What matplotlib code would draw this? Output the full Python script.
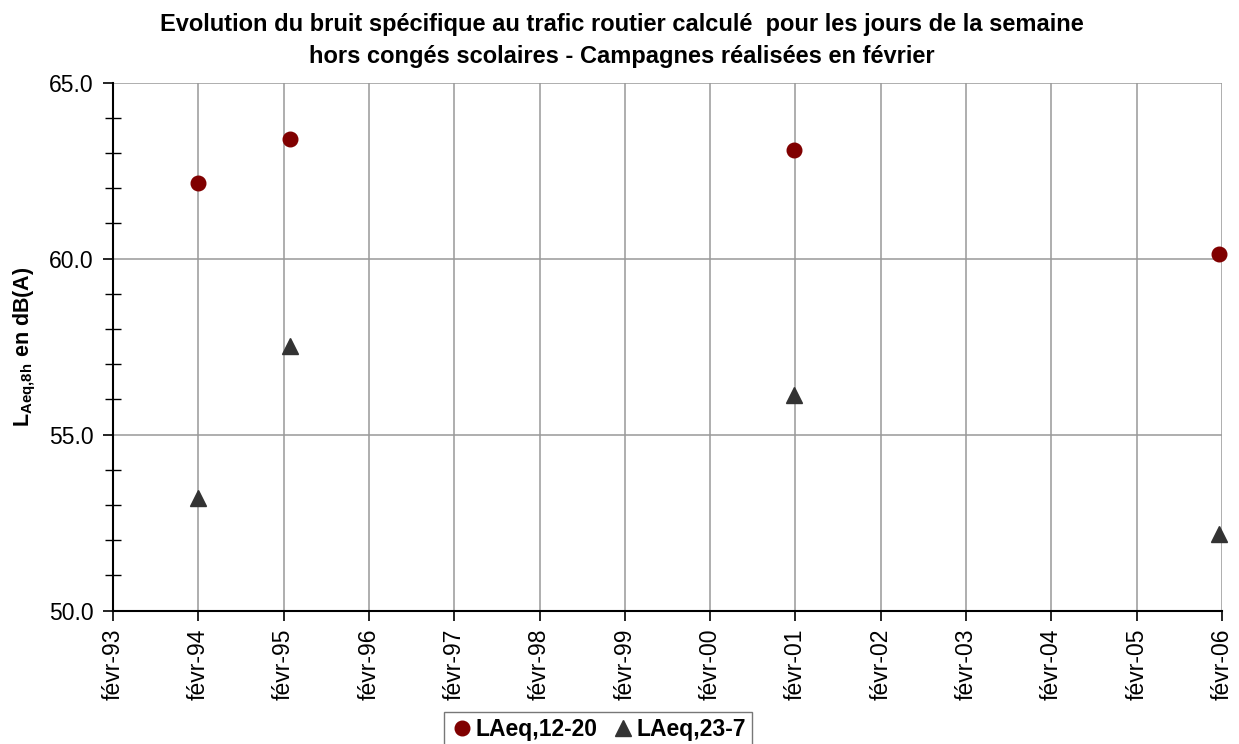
import matplotlib
matplotlib.use("Agg")
import matplotlib.pyplot as plt
from matplotlib.ticker import MultipleLocator
import datetime as dt

plt.rcParams['font.family'] = ['Liberation Sans', 'DejaVu Sans']
plt.rcParams['mathtext.fontset'] = 'custom'
plt.rcParams['mathtext.rm'] = 'Liberation Sans'
plt.rcParams['mathtext.bf'] = 'Liberation Sans:bold'
plt.rcParams['mathtext.it'] = 'Liberation Sans:italic'

# Data
dates = [dt.date(1994, 2, 1), dt.date(1995, 3, 1), dt.date(2001, 1, 25), dt.date(2006, 1, 20)]
laeq_12_20 = [62.14, 63.39, 63.08, 60.12]
laeq_23_7 = [53.2, 57.52, 56.13, 52.18]
tick_years = list(range(1993, 2007))
tick_labels = ["févr-%02d" % (y % 100) for y in tick_years]
y_ticks = [50.0, 55.0, 60.0, 65.0]
series_names = ["LAeq,12-20", "LAeq,23-7"]
title_lines = ["Evolution du bruit spécifique au trafic routier calculé  pour les jours de la semaine",
               "hors congés scolaires - Campagnes réalisées en février"]

fig = plt.figure(figsize=(12.39, 7.44), dpi=100)
ax = fig.add_axes([113/1239, 1 - 610.7/744, (1222 - 113)/1239, (610.7 - 82.7)/744])

ax.plot(dates, laeq_12_20, linestyle='none', marker='o', markersize=10.5,
        color='#800000', label=series_names[0], zorder=5, clip_on=False)
ax.plot(dates, laeq_23_7, linestyle='none', marker='^', markersize=11.5,
        color='#333333', label=series_names[1], zorder=5, clip_on=False)

ticks = [dt.date(y, 2, 1) for y in tick_years]
ax.set_xlim(ticks[0], ticks[-1])
ax.set_xticks(ticks)
ax.set_xticklabels(tick_labels, rotation=90, fontsize=16.5)
ax.set_ylim(50, 65)
ax.set_yticks(y_ticks)
ax.set_yticklabels(["%.1f" % v for v in y_ticks], fontsize=16.5)
ax.yaxis.set_minor_locator(MultipleLocator(1))

ax.grid(True, which='major', color='#999999', linewidth=1.1)
ax.set_axisbelow(True)
for s in ['top', 'right']:
    ax.spines[s].set_visible(False)
for s in ['left', 'bottom']:
    ax.spines[s].set_linewidth(1.5)
    ax.spines[s].set_color('black')
ax.tick_params(axis='x', which='major', direction='out', length=7, width=1.2, pad=6)
ax.tick_params(axis='y', which='major', direction='out', length=7, width=1.2, pad=7)
ax.tick_params(axis='y', which='minor', direction='inout', length=12, width=1.0)

ax.set_ylabel(r"$\mathbf{L_{Aeq{,}8h}}$ en dB(A)", fontsize=15.5, fontweight='bold')
ax.yaxis.set_label_coords(-0.068, 0.5)

fig.text(622/1239, 1 - 25/744, title_lines[0], ha='center', va='center', fontsize=17, fontweight='bold')
fig.text(622/1239, 1 - 57/744, title_lines[1], ha='center', va='center', fontsize=17, fontweight='bold')

leg = fig.legend(loc='upper center', bbox_to_anchor=(598/1239, 1 - 712/744), ncol=2,
                 prop={'weight': 'bold', 'size': 16.5}, frameon=True, fancybox=False,
                 handletextpad=0.1, columnspacing=0.6, borderpad=0.25, handlelength=1.0,
                 borderaxespad=0)
leg.get_frame().set_edgecolor('#555555')
leg.get_frame().set_linewidth(1.0)

fig.savefig("out.png", dpi=100)
